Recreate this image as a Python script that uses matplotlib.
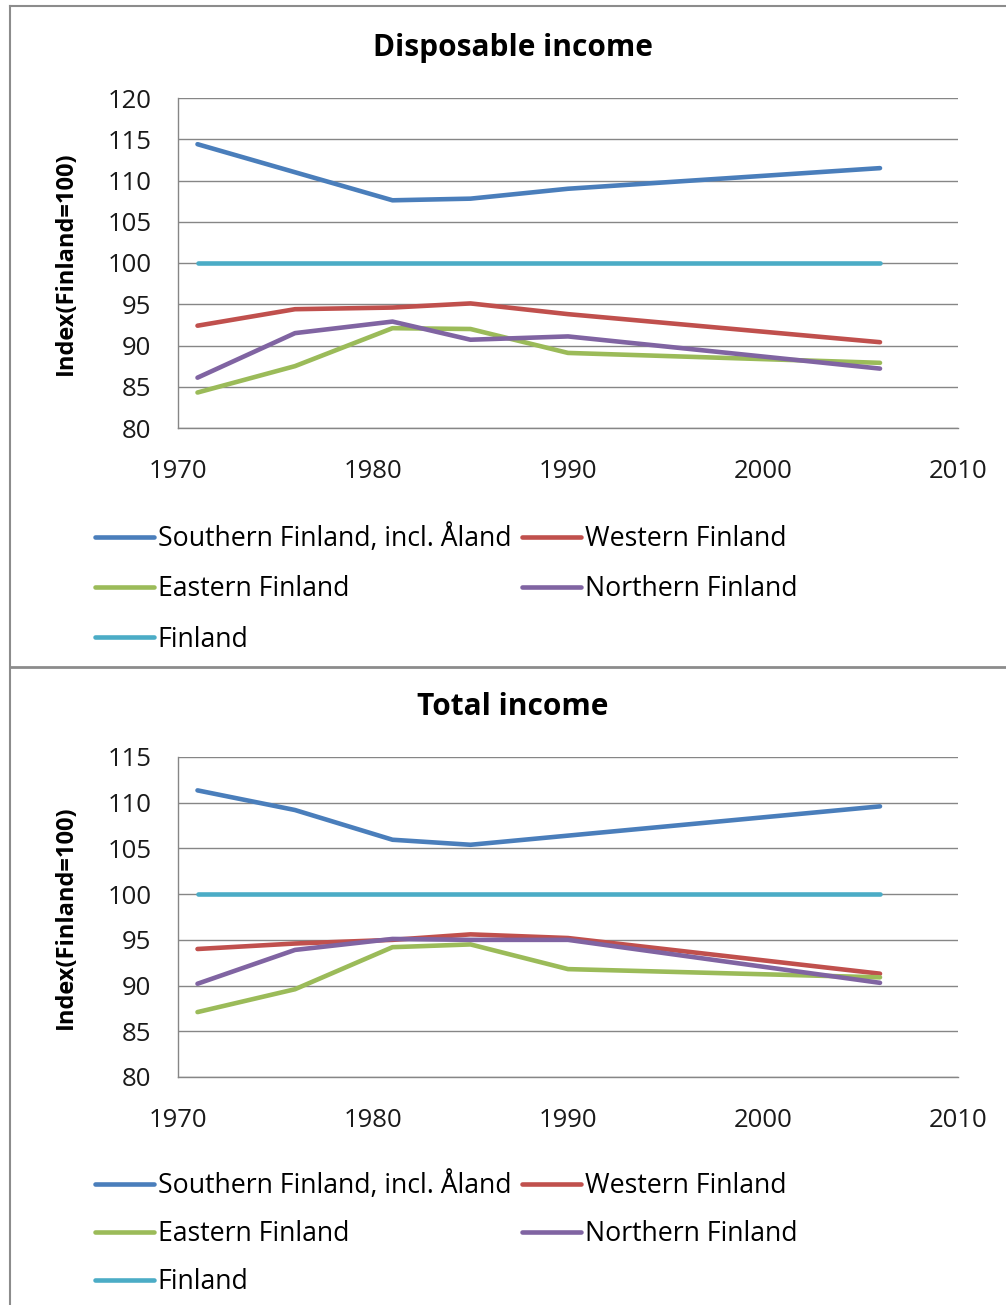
import matplotlib
matplotlib.use("Agg")
import matplotlib.pyplot as plt
from matplotlib.lines import Line2D

plt.rcParams["font.family"] = ["Open Sans", "DejaVu Sans"]

# Data
years = [1971, 1976, 1981, 1985, 1990, 2006]
regions = ["Southern Finland, incl. Åland", "Western Finland", "Eastern Finland",
           "Northern Finland", "Finland"]
colors = ["#4A7EBB", "#C0504D", "#9BBB59", "#8064A2", "#4BACC6"]

disp_southern = [114.4, 111.0, 107.6, 107.8, 109.0, 111.5]
disp_western = [92.4, 94.4, 94.6, 95.1, 93.8, 90.4]
disp_eastern = [84.3, 87.5, 92.1, 92.0, 89.1, 87.9]
disp_northern = [86.1, 91.5, 92.9, 90.7, 91.1, 87.2]
disp_finland = [100, 100, 100, 100, 100, 100]

tot_southern = [111.35, 109.2, 105.95, 105.4, 106.4, 109.6]
tot_western = [94.0, 94.6, 95.0, 95.6, 95.2, 91.3]
tot_eastern = [87.1, 89.6, 94.2, 94.5, 91.8, 90.9]
tot_northern = [90.2, 93.9, 95.1, 95.0, 95.0, 90.3]
tot_finland = [100, 100, 100, 100, 100, 100]

# title, series, y range, axes top/bottom (px), legend top (px), legend row spacing
panels = [
    ("Disposable income", [disp_southern, disp_western, disp_eastern, disp_northern, disp_finland],
     80, 120, [98, 428], 524, 0.84),
    ("Total income", [tot_southern, tot_western, tot_eastern, tot_northern, tot_finland],
     80, 115, [757, 1077], 1171, 0.76),
]

W, H = 1006, 1305
fig = plt.figure(figsize=(W / 100, H / 100), dpi=100)

# panel frames
frame_col = "#8c8c8c"
fig.add_artist(Line2D([10 / W, 10 / W], [0, 1 - 6 / H], transform=fig.transFigure, color=frame_col, lw=1.5))
fig.add_artist(Line2D([10 / W, 1], [1 - 6 / H, 1 - 6 / H], transform=fig.transFigure, color=frame_col, lw=1.5))
fig.add_artist(Line2D([10 / W, 1], [1 - 667 / H, 1 - 667 / H], transform=fig.transFigure, color=frame_col, lw=2))

for title, series, ymin, ymax, (top, bottom), leg_y, leg_sp in panels:
    ax = fig.add_axes([178 / W, 1 - bottom / H, (958 - 178) / W, (bottom - top) / H])
    for vals, c, lab in zip(series, colors, regions):
        ax.plot(years, vals, color=c, lw=3.3, label=lab, solid_capstyle="round")
    ax.set_xlim(1970, 2010)
    ax.set_ylim(ymin, ymax)
    ax.set_xticks([1970, 1980, 1990, 2000, 2010])
    ax.set_yticks(range(ymin, ymax + 1, 5))
    ax.grid(axis="y", color="#868686", lw=1)
    ax.set_axisbelow(True)
    for s in ["top", "right"]:
        ax.spines[s].set_visible(False)
    for s in ["left", "bottom"]:
        ax.spines[s].set_color("#868686")
        ax.spines[s].set_linewidth(1)
    ax.tick_params(length=0, labelsize=18.5, colors="#1a1a1a")
    ax.tick_params(axis="y", pad=19)
    ax.tick_params(axis="x", pad=22)
    ax.set_ylabel("Index(Finland=100)", fontsize=17, fontweight="bold", labelpad=21)
    fig.text(0.51, 1 - (top - 50) / H, title, ha="center", va="center",
             fontsize=21.5, fontweight="bold")

    handles, labels = ax.get_legend_handles_labels()
    order = [0, 2, 4, 1, 3]
    fig.legend([handles[i] for i in order], [labels[i] for i in order],
               loc="upper left", bbox_to_anchor=(95 / W, 1 - leg_y / H),
               ncol=2, frameon=False, fontsize=19.2, handlelength=2.2,
               handletextpad=0.15, columnspacing=0.42, labelspacing=leg_sp,
               borderpad=0, borderaxespad=0)

fig.savefig("out.png", dpi=100)
